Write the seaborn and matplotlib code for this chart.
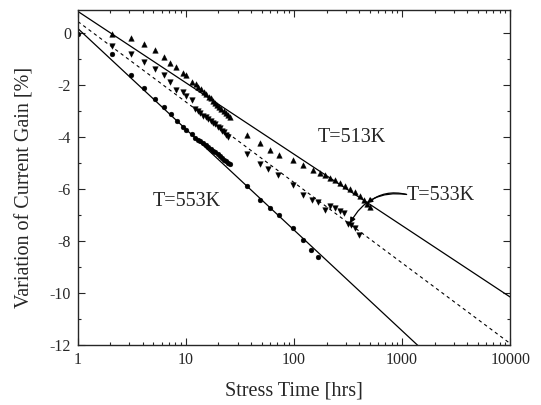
import numpy as np
import pandas as pd
import matplotlib
matplotlib.use("Agg")
import matplotlib.pyplot as plt
import seaborn as sns
from matplotlib.ticker import FixedLocator, LogLocator, NullFormatter, FuncFormatter, MultipleLocator

# T=513K (up triangles)
t513 = [2.08, 3.07, 4.1, 5.2, 6.2, 7.1, 8.1, 9.3, 10.1, 11.3,
        12.3, 13.0, 13.8, 14.6, 15.4, 16.2, 17.0, 17.8, 18.6, 19.5, 20.4, 21.3, 22.3, 23.3, 24.4, 25.5,
        36.5, 48.4, 60, 72, 98, 121, 151, 174, 195, 215, 240, 268, 296, 330, 365, 410, 443, 475, 505]
g513 = [-0.01, -0.17, -0.40, -0.62, -0.91, -1.13, -1.28, -1.53, -1.60, -1.87,
        -1.95, -2.06, -2.14, -2.26, -2.33, -2.44, -2.50, -2.60, -2.66, -2.76, -2.82, -2.91, -2.97, -3.07, -3.13, -3.22,
        -3.90, -4.22, -4.50, -4.67, -4.88, -5.08, -5.24, -5.36, -5.45, -5.55, -5.66, -5.77, -5.87, -5.99, -6.10, -6.25, -6.40, -6.55, -6.70]

# T=533K (down triangles)
t533 = [2.08, 3.07, 4.1, 5.2, 6.2, 7.1, 8.1, 9.3, 10.1, 11.3,
        12.1, 12.8, 13.6, 14.4, 15.2, 16.0, 16.9, 17.8, 18.7, 19.6, 20.6, 21.6, 22.6, 23.6, 24.6,
        36.5, 48.4, 57.7, 71.6, 98, 121, 146, 168, 194, 215, 240, 268, 288, 318, 340, 367, 395]
g533 = [-0.49, -0.78, -1.08, -1.36, -1.60, -1.87, -2.17, -2.27, -2.40, -2.58,
        -2.92, -3.00, -3.06, -3.16, -3.21, -3.31, -3.36, -3.45, -3.50, -3.59, -3.65, -3.75, -3.81, -3.91, -3.98,
        -4.63, -5.01, -5.20, -5.46, -5.85, -6.23, -6.40, -6.49, -6.80, -6.65, -6.74, -6.83, -6.93, -7.32, -7.38, -7.51, -7.77]

# T=553K (circles)
t553 = [1, 2.08, 3.07, 4.1, 5.2, 6.25, 7.25, 8.2, 9.3, 10.1, 11.3,
        12.1, 12.8, 13.6, 14.4, 15.2, 16.0, 16.9, 17.8, 18.7, 19.6, 20.6, 21.6, 22.6, 23.6, 24.6, 25.5,
        36.5, 48.4, 60, 72, 98, 120, 144, 167]
g553 = [-0.03, -0.78, -1.59, -2.09, -2.51, -2.83, -3.09, -3.37, -3.60, -3.70, -3.88,
        -4.02, -4.09, -4.15, -4.23, -4.28, -4.36, -4.43, -4.51, -4.57, -4.65, -4.72, -4.80, -4.86, -4.92, -4.98, -5.01,
        -5.88, -6.42, -6.74, -7.00, -7.49, -7.96, -8.32, -8.60]

# fitted lines (end points, straight on log axis)
fit_t = [1, 10000]
fit513 = [0.85, -10.15]
fit533 = [0.46, -11.94]
fit553 = [0.19, -15.33]

sns.set_style("ticks")
plt.rcParams["font.family"] = ["Liberation Serif", "DejaVu Serif"]
plt.rcParams["axes.unicode_minus"] = False
plt.rcParams["mathtext.default"] = "regular"

fig = plt.figure(figsize=(5.41, 4.05), dpi=100)
ax = fig.add_axes([0.144, 0.148, 0.799, 0.827])

sns.lineplot(x=fit_t, y=fit513, color="black", lw=0.9, ax=ax)
sns.lineplot(x=fit_t, y=fit533, color="black", lw=0.8, linestyle=(0, (3, 3)), ax=ax)
sns.lineplot(x=fit_t, y=fit553, color="black", lw=0.9, ax=ax)

sns.scatterplot(x=t513, y=g513, marker="^", color="black", s=16, edgecolor="black", linewidth=0.3, ax=ax)
sns.scatterplot(x=t533, y=g533, marker="v", color="black", s=16, edgecolor="black", linewidth=0.3, ax=ax)
sns.scatterplot(x=t553, y=g553, marker="o", color="black", s=12, edgecolor="black", linewidth=0.3, ax=ax)

ax.set_xscale("log")
ax.set_xlim(1, 10000)
ax.set_ylim(-12, 0.9)
ax.xaxis.set_major_locator(FixedLocator([1, 10, 100, 1000, 10000]))
ax.xaxis.set_major_formatter(FuncFormatter(lambda v, p: "%d" % v))
ax.xaxis.set_minor_locator(LogLocator(base=10, subs=np.arange(2, 10)))
ax.xaxis.set_minor_formatter(NullFormatter())
ax.yaxis.set_major_locator(FixedLocator([0, -2, -4, -6, -8, -10, -12]))
ax.yaxis.set_major_formatter(FuncFormatter(lambda v, p: "%d" % v))
ax.yaxis.set_minor_locator(MultipleLocator(1))

ax.tick_params(which="both", direction="in", top=True, right=True, width=0.8, labelsize=11.5)
ax.tick_params(which="major", length=5)
ax.tick_params(which="minor", length=2.5)
ax.tick_params(axis="y", pad=5)
ax.tick_params(axis="x", pad=5)
for sp in ax.spines.values():
    sp.set_linewidth(1.0)

ax.set_xlabel("Stress Time [hrs]", fontsize=14.5)
ax.set_ylabel("Variation of Current Gain [%]", fontsize=14.5)
ax.xaxis.set_label_coords(0.5, -0.11)
ax.yaxis.set_label_coords(-0.10, 0.47)

ax.text(344, -4.0, "T=513K", fontsize=14.5, ha="center", va="center")
ax.text(10.2, -6.46, "T=553K", fontsize=14.5, ha="center", va="center")
ax.text(1112, -6.23, "T=533K", fontsize=14.5, ha="left", va="center")
ax.annotate("", xy=(474, -6.54), xytext=(1100, -6.2),
            arrowprops=dict(arrowstyle="-|>", color="black", lw=0.9, mutation_scale=8,
                            connectionstyle="arc3,rad=0.25", shrinkA=0, shrinkB=0))
ax.annotate("", xy=(330, -7.31), xytext=(1100, -6.2),
            arrowprops=dict(arrowstyle="-|>", color="black", lw=0.9, mutation_scale=8,
                            connectionstyle="arc3,rad=0.35", shrinkA=0, shrinkB=0))

fig.savefig("out.png", dpi=100)
